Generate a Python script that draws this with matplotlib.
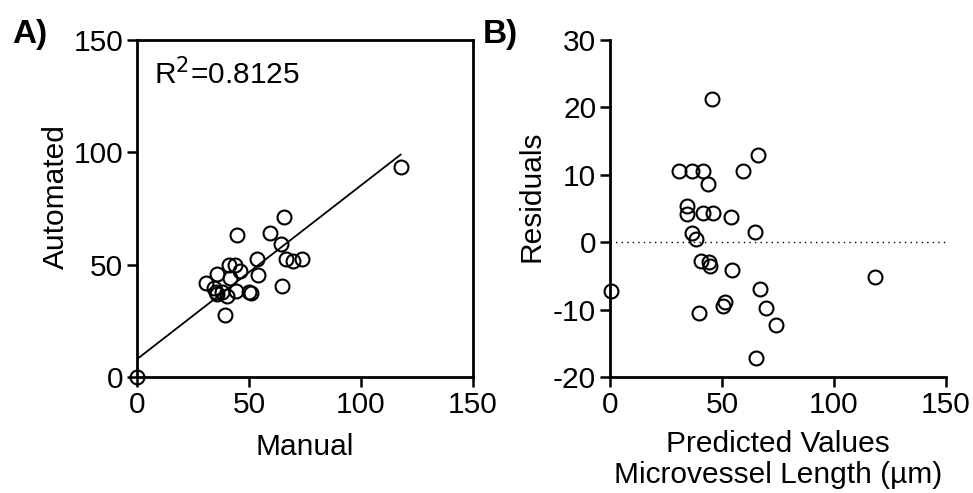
import numpy as np
import matplotlib
matplotlib.use("Agg")
import matplotlib.pyplot as plt

plt.rcParams['font.family'] = ['Liberation Sans', 'DejaVu Sans']
plt.rcParams['axes.unicode_minus'] = False

# Panel A: manual vs automated microvessel length
manual = [117.7, 65.6, 44.8, 59.4, 64.3, 53.4, 66.5, 69.8, 73.8, 41.2, 43.8, 46.0, 35.9, 41.5,
          54.2, 30.8, 34.4, 35.3, 37.8, 35.9, 40.3, 44.2, 50.1, 50.8, 64.6, 39.3, 0.0]
automated = [93.5, 71.1, 63.4, 64.3, 59.2, 52.7, 52.5, 51.5, 52.5, 49.7, 49.7, 47.3, 45.9, 44.1,
             45.6, 41.9, 39.7, 37.7, 37.7, 37.2, 36.0, 38.2, 37.7, 37.5, 40.4, 27.6, 0.0]
fit_intercept = 8.0
fit_slope = 0.773
r2_text = "R$^2$=0.8125"

# Panel B: residuals vs predicted values
predicted = [45.4, 66.2, 30.9, 36.5, 41.4, 43.9, 59.5, 34.5, 34.5, 41.7, 46.1, 53.9, 64.7, 36.5,
             38.4, 40.5, 44.3, 44.6, 54.3, 0.3, 67.0, 51.3, 50.6, 69.6, 39.7, 74.0, 65.0, 118.3]
residuals = [21.3, 13.0, 10.5, 10.5, 10.6, 8.7, 10.5, 5.4, 4.2, 4.4, 4.4, 3.7, 1.5, 1.3,
             0.5, -2.8, -3.0, -3.5, -4.1, -7.2, -7.0, -8.8, -9.5, -9.8, -10.5, -12.2, -17.1, -5.2]

fig = plt.figure(figsize=(9.73, 4.93), dpi=100)
axA = fig.add_axes([0.1408, 0.235, 0.3453, 0.684])
axB = fig.add_axes([0.6270, 0.235, 0.3453, 0.684])

fs = 21.5
mk = dict(marker='o', markersize=10, markerfacecolor='none', markeredgecolor='black',
          markeredgewidth=1.5, linestyle='none', clip_on=False, zorder=3)

# --- A ---
axA.plot(manual, automated, **mk)
xs = np.array([0, max(manual)])
axA.plot(xs, fit_intercept + fit_slope * xs, color='black', lw=1.3)
axA.set_xlim(0, 150)
axA.set_ylim(0, 150)
axA.set_xticks([0, 50, 100, 150])
axA.set_yticks([0, 50, 100, 150])
axA.set_xlabel("Manual", fontsize=fs, labelpad=10)
axA.set_ylabel("Automated", fontsize=fs)
axA.yaxis.set_label_coords(-0.2, 0.535)
axA.text(0.05, 0.9, r2_text, transform=axA.transAxes, fontsize=fs, va='center')
for s in axA.spines.values():
    s.set_linewidth(2)

# --- B ---
axB.plot(predicted, residuals, **mk)
axB.axhline(0, color='black', lw=1, linestyle=(0, (1, 3)))
axB.set_xlim(0, 150)
axB.set_ylim(-20, 30)
axB.set_xticks([0, 50, 100, 150])
axB.set_yticks([-20, -10, 0, 10, 20, 30])
axB.set_xlabel("Predicted Values\nMicrovessel Length (µm)", fontsize=fs, labelpad=8,
               linespacing=1.15)
axB.set_ylabel("Residuals", fontsize=fs)
axB.yaxis.set_label_coords(-0.193, 0.535)
axB.spines['top'].set_visible(False)
axB.spines['right'].set_visible(False)
axB.spines['left'].set_linewidth(2)
axB.spines['bottom'].set_linewidth(2)

for ax in (axA, axB):
    ax.tick_params(direction='out', length=7, width=1.8, labelsize=fs, pad=3)

fig.text(0.013, 0.93, "A)", fontsize=24, fontweight='bold', va='center')
fig.text(0.496, 0.93, "B)", fontsize=24, fontweight='bold', va='center')

fig.savefig("out.png", dpi=100)
